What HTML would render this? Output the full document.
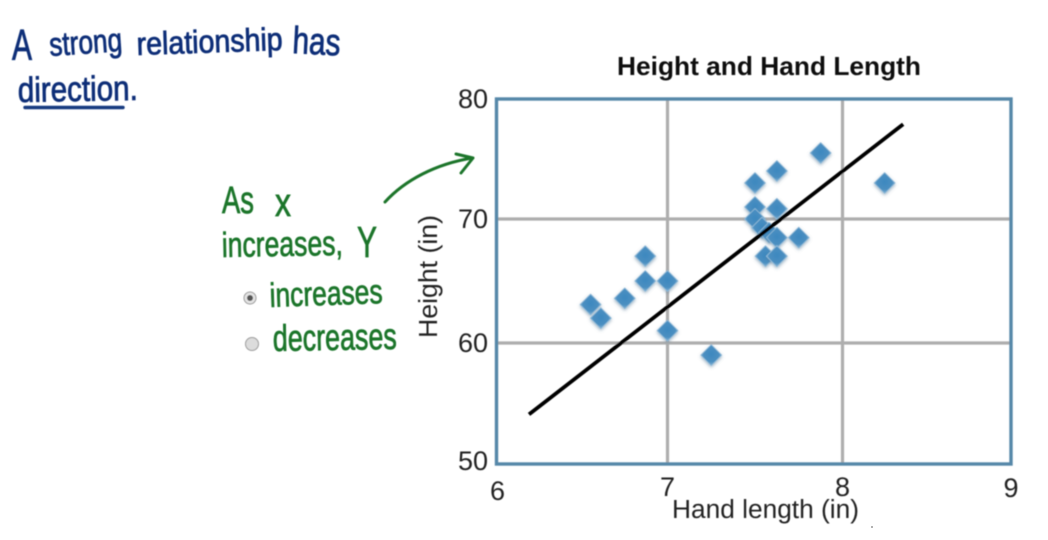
<!DOCTYPE html>
<html lang="en">
<head>
<meta charset="utf-8">
<title>Height and Hand Length</title>
<style>
html,body{margin:0;padding:0;background:#fff;width:1048px;height:540px;overflow:hidden}
svg{display:block}
text{font-family:"Liberation Sans",sans-serif}
.hand-blue{fill:#0f2f78;stroke:#0f2f78;stroke-width:.8px}
.hand-green{fill:#1a7529;stroke:#1a7529;stroke-width:.7px}
.tick{font-size:27px;fill:#222}
.axis-title{font-size:25.5px;fill:#222}
</style>
</head>
<body>
<svg id="root" xmlns="http://www.w3.org/2000/svg" width="1048" height="540" viewBox="0 0 1048 540">
  <defs>
    <filter id="soft" x="-5%" y="-5%" width="110%" height="110%"><feGaussianBlur stdDeviation="0.65"/></filter>
    <filter id="markerShadow" x="-40%" y="-40%" width="180%" height="180%">
      <feDropShadow dx="0" dy="1.4" stdDeviation="1.6" flood-color="#5a7f99" flood-opacity=".6"/>
    </filter>
    <radialGradient id="markerFill" cx="50%" cy="45%" r="60%">
      <stop offset="0" stop-color="#3d88bf"/>
      <stop offset=".6" stop-color="#4b8fc1"/>
      <stop offset="1" stop-color="#93bcd9"/>
    </radialGradient>
  </defs>

  <g filter="url(#soft)">
    <text class="hand-blue" x="12" y="60" font-size="44" textLength="20" lengthAdjust="spacingAndGlyphs">A</text>
    <text class="hand-blue" x="50" y="56" font-size="33" textLength="73" lengthAdjust="spacingAndGlyphs" transform="rotate(-4 50 56)">strong</text>
    <text class="hand-blue" x="137" y="55" font-size="32" textLength="146" lengthAdjust="spacingAndGlyphs" transform="rotate(-2 137 55)">relationship</text>
    <text class="hand-blue" x="292" y="53" font-size="38" textLength="48" lengthAdjust="spacingAndGlyphs" transform="rotate(3 292 53)">has</text>
    <text class="hand-blue" x="18" y="102" font-size="35" textLength="120" lengthAdjust="spacingAndGlyphs" transform="rotate(-1 18 102)">direction.</text>
    <path d="M25 107.5 L123 107.5" stroke="#123a80" stroke-width="3.4" stroke-linecap="round" fill="none"/>
  </g>

  <g filter="url(#soft)">
    <text class="hand-green" x="222" y="213" font-size="38" textLength="32" lengthAdjust="spacingAndGlyphs">As</text>
    <text class="hand-green" x="275" y="216" font-size="40" textLength="16" lengthAdjust="spacingAndGlyphs">x</text>
    <text class="hand-green" x="222" y="257" font-size="35" textLength="121" lengthAdjust="spacingAndGlyphs" transform="rotate(-1 222 257)">increases,</text>
    <text class="hand-green" x="357" y="257" font-size="44" textLength="20" lengthAdjust="spacingAndGlyphs">Y</text>
    <circle cx="250" cy="298" r="6" fill="#e4e4e4" stroke="#9a9a9a" stroke-width="1"/>
    <circle cx="250" cy="298" r="3" fill="#555"/>
    <text class="hand-green" x="270" y="307" font-size="34" textLength="113" lengthAdjust="spacingAndGlyphs" transform="rotate(-2 270 307)">increases</text>
    <circle cx="252" cy="344" r="6.5" fill="#dcdcdc" stroke="#9a9a9a" stroke-width="1"/>
    <text class="hand-green" x="273" y="351" font-size="37" textLength="124" lengthAdjust="spacingAndGlyphs" transform="rotate(-1 273 351)">decreases</text>
    <path d="M385 202 C405 180 436 164 472 158 M456 154 L473 158 L461 173" stroke="#1a7529" stroke-width="3" stroke-linecap="round" stroke-linejoin="round" fill="none"/>
  </g>

  <g id="chart" filter="url(#soft)"></g>
  <circle cx="872" cy="527" r="1" fill="#999"/>
</svg>

<script>
const categories = ["hand-length-vs-height"];
const handLength = [6.55,6.61,6.75,6.87,6.87,7,7,7.25,7.5,7.625,7.875,8.25,7.5,7.5,7.625,7.54,7.58,7.625,7.75,7.56,7.625];
const height = [63.1,62,63.6,67,65,65,61,59,73,74,75.5,73,71,70,70.85,69.3,68.9,68.5,68.5,67,67];
const trendX = [6.19,8.36];
const trendY = [54.1,77.9];
const xTickLabels = [6,7,8,9];
const yTickLabels = [50,60,70,80];

const NS = "http://www.w3.org/2000/svg";
const chart = document.getElementById("chart");

function piecewise(domain, range, v) {
  let i = 0;
  while (i < domain.length - 2 && v > domain[i + 1]) i++;
  return range[i] + (v - domain[i]) * (range[i + 1] - range[i]) / (domain[i + 1] - domain[i]);
}
function xAxis(v) { return piecewise([6,7,8,9], [496.5,667.5,842.5,1011], v); }
function yAxis(v) { return piecewise([50,60,70,80], [464,343,219,99], v); }

function make(tag, attrs, text) {
  const el = document.createElementNS(NS, tag);
  for (const k in attrs) el.setAttribute(k, attrs[k]);
  if (text !== undefined) el.textContent = text;
  chart.appendChild(el);
  return el;
}

const title = make("text", {x:769, y:75, "text-anchor":"middle", "font-size":26, "font-weight":"bold", fill:"#111", textLength:304, lengthAdjust:"spacingAndGlyphs"}, "Height and Hand Length");



xTickLabels.slice(1, -1).forEach(v => {
  const g = make("line", {x1:xAxis(v), x2:xAxis(v), y1:yAxis(80), y2:yAxis(50), stroke:"#aeaeae", "stroke-width":3.2});
  
  
});
yTickLabels.slice(1, -1).forEach(v => {
  const g = make("line", {x1:xAxis(6), x2:xAxis(9), y1:yAxis(v), y2:yAxis(v), stroke:"#aeaeae", "stroke-width":3.2});
  
  
});

const frame = make("rect", {x:xAxis(6), y:yAxis(80), width:xAxis(9)-xAxis(6), height:yAxis(50)-yAxis(80), fill:"none", stroke:"#5788a9", "stroke-width":3.4});



handLength.forEach((v, i) => {
  const cx = xAxis(v), cy = yAxis(height[i]), r = 10.5;
  const p = make("polygon", {
    points: `${cx},${cy-r} ${cx+r},${cy} ${cx},${cy+r} ${cx-r},${cy}`,
    fill: "url(#markerFill)", filter: "url(#markerShadow)",
    "stroke":"#93bcd9", "stroke-width":.8, "stroke-linejoin":"round"
  });
  
  
});

const trend = make("line", {x1:xAxis(trendX[0]), y1:yAxis(trendY[0]), x2:xAxis(trendX[1]), y2:yAxis(trendY[1]), stroke:"#000", "stroke-width":3.8});



xTickLabels.forEach(v => {
  const t = make("text", {class:"tick", x:xAxis(v)+(v===6?1:0), y:v===6?500:(v===9?497:496), "text-anchor":"middle"}, String(v));
  
  
});
yTickLabels.forEach(v => {
  const t = make("text", {class:"tick", x:488, y:v===50?470:yAxis(v)+9, "text-anchor":"end"}, String(v));
  
  
});

const xTitle = make("text", {class:"axis-title", x:672, y:518, textLength:187, lengthAdjust:"spacingAndGlyphs"}, "Hand length (in)");


const yTitle = make("text", {class:"axis-title", x:0, y:0, textLength:123, lengthAdjust:"spacingAndGlyphs", transform:"translate(437 338) rotate(-90)"}, "Height (in)");


</script>
</body>
</html>
